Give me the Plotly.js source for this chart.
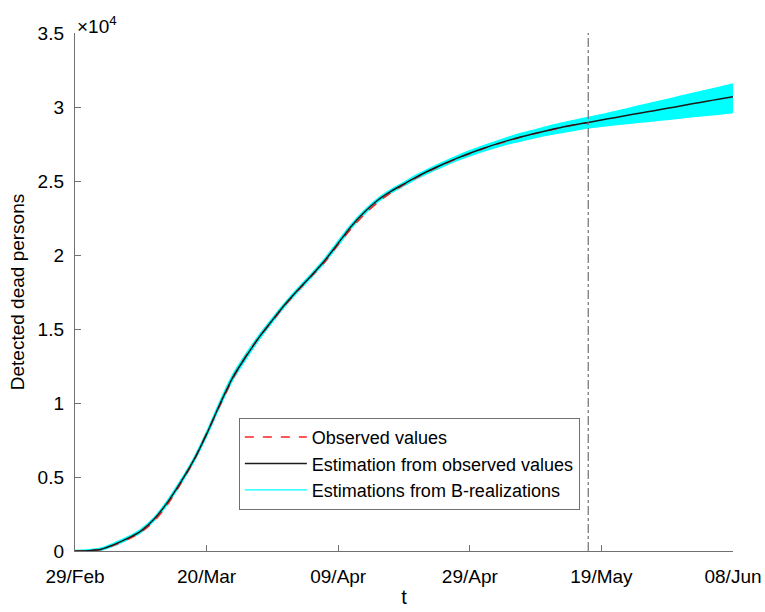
<!DOCTYPE html>
<html>
<head>
<meta charset="utf-8">
<script src="https://cdn.plot.ly/plotly-3.0.1.min.js"></script>
<style>html,body{margin:0;padding:0;background:#fff;}#chart{width:765px;height:612px;}</style>
</head>
<body>
<div id="chart"></div>
<script>
// Day index from 29/Feb (every 2 days)
const days = [0,2,4,6,8,10,12,14,16,18,20,22,24,26,28,30,32,34,36,38,40,42,44,46,48,50,
              52,54,56,58,60,62,64,66,68,70,72,74,76,78,80,82,84,86,88,90,92,94,96,98,100];
// Estimation from observed values
const estimate = [0,20,120,450,850,1350,2150,3250,4600,6100,7900,9900,11750,13150,14450,15600,16700,17700,18650,19650,20800,21950,22900,23700,24300,24800,
                  25300,25740,26150,26530,26880,27200,27490,27760,28000,28220,28430,28630,28800,28960,29120,29280,29440,29600,29750,29910,30070,30230,30390,30540,30700];
// Observed values (until 17/May)
const obsDays = [0,2,4,6,8,10,12,14,16,18,20,22,24,26,28,30,32,34,36,38,40,42,44,46,48,50,52,54,56,58,60,62,64,66,68,70,72,74,76,78];
const observed = [0,30,100,400,780,1270,2000,3100,4500,6050,7950,9800,11650,13200,14450,15550,16650,17650,18600,19550,20700,21800,22750,23550,24200,24750,
                  25250,25700,26120,26500,26860,27180,27470,27740,27990,28210,28410,28620,28800,28960];
// Envelope of estimations from B-realizations
const bUpper = [30,80,200,550,950,1470,2250,3380,4730,6230,8050,10080,11930,13330,14600,15730,16820,17820,18770,19780,20950,22080,23020,23810,24410,24910,
                25420,25870,26290,26680,27040,27370,27680,27970,28240,28470,28700,28920,29110,29290,29470,29680,29890,30100,30300,30510,30720,30930,31140,31340,31550];
const bLower = [0,0,60,370,770,1250,2050,3130,4480,5980,7760,9750,11580,12990,14300,15470,16580,17580,18530,19520,20660,21820,22780,23590,24190,24690,
                25180,25610,26000,26380,26710,27010,27280,27530,27740,27940,28120,28280,28430,28590,28700,28800,28890,28985,29070,29160,29255,29350,29440,29525,29620];
const xTickVals = [0,20,40,60,80,100];
const xTickText = ['29/Feb','20/Mar','09/Apr','29/Apr','19/May','08/Jun'];
const yTickVals = [0,5000,10000,15000,20000,25000,30000,35000];
const yTickText = ['0','0.5','1','1.5','2','2.5','3','3.5'];
const cutoffDay = 78; // 17/May

const font = 'Liberation Sans, Arial, Helvetica, sans-serif';
const cyan = '#00FFFF';
const traces = [
  {x: days, y: bLower, mode: 'lines', line: {color: cyan, width: 1.5, shape: 'spline', smoothing: 0.8},
   showlegend: false, hoverinfo: 'skip'},
  {x: days, y: bUpper, mode: 'lines', line: {color: cyan, width: 1.5, shape: 'spline', smoothing: 0.8},
   fill: 'tonexty', fillcolor: cyan, showlegend: false, hoverinfo: 'skip'},
  {x: obsDays, y: observed, mode: 'lines', line: {color: '#FF2020', width: 1.5, dash: 'dash', shape: 'spline', smoothing: 0.8},
   name: 'Observed values', legendrank: 1},
  {x: days, y: estimate, mode: 'lines', line: {color: '#1a1a1a', width: 1.5, shape: 'spline', smoothing: 0.8},
   name: 'Estimation from observed values', legendrank: 2},
  // legend entry for the B-realizations (line symbol only)
  {x: [null], y: [null], mode: 'lines', line: {color: cyan, width: 1.2},
   name: 'Estimations from B-realizations', legendrank: 3}
];

const layout = {
  width: 765, height: 612,
  margin: {l: 75, r: 32, t: 33, b: 61},
  paper_bgcolor: '#fff', plot_bgcolor: '#fff',
  font: {family: font, size: 19, color: '#000'},
  showlegend: true,
  legend: {x: 0.249, y: 0.257, xanchor: 'left', yanchor: 'top', traceorder: 'normal',
           bgcolor: '#fff', bordercolor: '#707070', borderwidth: 1, itemwidth: 62,
           font: {family: font, size: 18, color: '#000'}, tracegroupgap: 0},
  xaxis: {range: [0, 100], tickvals: xTickVals, ticktext: xTickText,
          ticks: 'inside', ticklen: 6, tickcolor: '#707070', ticklabelstandoff: 8,
          showline: true, linecolor: '#707070', linewidth: 1.2,
          showgrid: false, zeroline: false, mirror: false,
          tickfont: {size: 19}, title: {text: 't', font: {size: 20}, standoff: 4}},
  yaxis: {range: [0, 35000], tickvals: yTickVals, ticktext: yTickText,
          ticks: 'inside', ticklen: 6, tickcolor: '#707070', ticklabelstandoff: 6,
          showline: true, linecolor: '#707070', linewidth: 1.2,
          showgrid: false, zeroline: false, mirror: false,
          tickfont: {size: 19}, title: {text: 'Detected dead persons', font: {size: 19}, standoff: 8}},
  shapes: [{type: 'line', xref: 'x', yref: 'y', x0: cutoffDay, x1: cutoffDay, y0: 0, y1: 35000,
            line: {color: '#707070', width: 1.2, dash: 'dashdot'}}],
  annotations: [{xref: 'paper', yref: 'paper', x: 0, y: 1, xanchor: 'left', yanchor: 'bottom',
                 text: '×10<sup>4</sup>', showarrow: false, font: {size: 19}, yshift: -6}]
};
Plotly.newPlot('chart', traces, layout, {displayModeBar: false, staticPlot: true});
</script>
</body>
</html>
